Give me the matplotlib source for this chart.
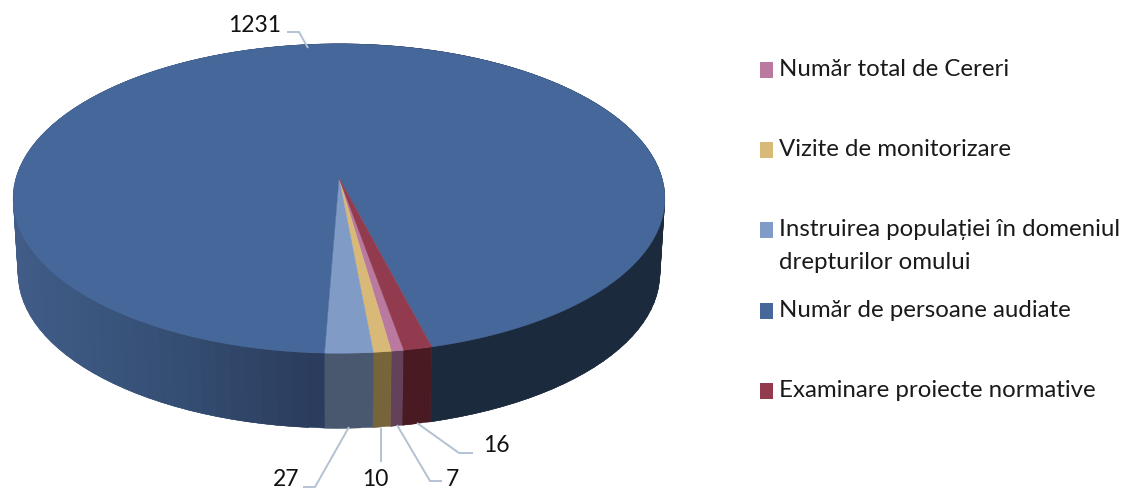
import numpy as np
import matplotlib
matplotlib.use("Agg")
import matplotlib.pyplot as plt
from matplotlib.patches import Rectangle

categories = ["Număr total de Cereri", "Vizite de monitorizare",
              "Instruirea populației în domeniul\ndrepturilor omului",
              "Număr de persoane audiate", "Examinare proiecte normative"]
values = [7, 10, 27, 1231, 16]
top_colors = ["#BA7AA0", "#D8B977", "#7F9BC6", "#466799", "#923A4E"]
wall_colors = ["#64415A", "#78643A", "#49586F", None, "#4A1A22"]

plt.rcParams['font.family'] = ['Lato', 'DejaVu Sans']

# perspective of the disc, all in pixels
CX, CY = 339, 178
RX, RY, K = 323, 152, 0.1327
DEPTH, SHRINK = 75, 0.985
START = -75.5


def project(theta, scale=1.0, dy=0.0):
    t = np.radians(theta)
    d = 1 + K * np.sin(t)
    return CX + scale * RX * np.cos(t) / d, CY - RY * np.sin(t) / d + dy


def wall_shade(x):
    # side of the big slice gets darker from left to right
    return (np.interp(x, [18, 170, 320, 432], [64, 52, 42, 28]) / 255,
            np.interp(x, [18, 170, 320, 432], [92, 78, 58, 42]) / 255,
            np.interp(x, [18, 170, 320, 432], [135, 115, 90, 62]) / 255)


fig = plt.figure(figsize=(11.34, 4.88), dpi=100)
ax = fig.add_axes([0, 0, 1, 1])
ax.set_xlim(0, 1134)
ax.set_ylim(488, 0)
ax.axis('off')

# slices go clockwise, the red one ends where the pink one starts
sweep = 360 * np.array(values) / sum(values)
ends = START - sweep[-1] - np.cumsum(sweep)
starts = ends + sweep

for a0, a1, wc in zip(starts, ends, wall_colors):
    n = max(2, int(abs(a0 - a1) / 2.5) + 1)
    th = np.linspace(a0, a1, n + 1)
    step = th[0] - th[1]
    for t0, t1 in zip(th[:-1], th[1:]):
        # strips overlap a bit so no seams show between them
        t2 = max(t1 - step, a1)
        x0, y0 = project(t0)
        x1, y1 = project(t2)
        x2, y2 = project(t2, SHRINK, DEPTH)
        x3, y3 = project(t0, SHRINK, DEPTH)
        c = wc if wc else wall_shade((x0 + x1) / 2)
        ax.fill([x0, x1, x2, x3], [y0, y1, y2, y3], color=c, lw=0.3, zorder=2)

for a0, a1, tc in zip(starts, ends, top_colors):
    th = np.linspace(a0, a1, max(3, int(abs(a0 - a1))))
    x, y = project(th)
    ax.fill(np.r_[CX, x], np.r_[CY, y], color=tc, lw=0.3, zorder=3)

# data labels with their leader lines
leaders = [([287, 299, 308], [32, 32, 48], 255, 32, values[3]),
           ([349, 315, 303], [427, 487, 487], 286, 486, values[2]),
           ([381, 381], [428, 462], 375, 486, values[1]),
           ([397, 430, 442], [425, 481, 481], 452, 486, values[0]),
           ([417, 459, 473], [423, 453, 453], 496, 452, values[4])]
for xs, ys, tx, ty, v in leaders:
    ax.plot(xs, ys, color="#B3C2D3", lw=1.4, zorder=4, solid_capstyle='butt')
    ax.text(tx, ty, str(v), fontsize=16.5, color="#111111", ha='center', va='baseline')

legend_y = [76, 156, 236, 317, 397]
for name, col, y in zip(categories, top_colors, legend_y):
    ax.add_patch(Rectangle((760, y - 14), 13, 16, color=col, lw=0))
    lines = name.split("\n")
    for i, line in enumerate(lines):
        ax.text(779, y + i * 33, line, fontsize=17.3, color="#1a1a1a", va='baseline')

fig.savefig("out.png", dpi=100)
